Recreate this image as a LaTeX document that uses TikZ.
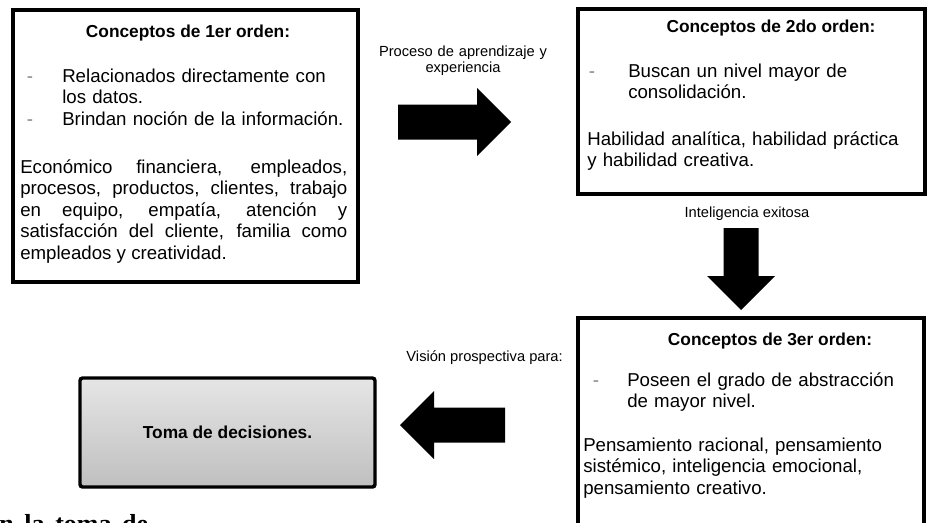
\documentclass[tikz,border=0pt]{standalone}
\usepackage{fontspec}
\setmainfont{Liberation Sans}
\newfontfamily\serifbf{Liberation Serif}
\usetikzlibrary{shadows}

\tikzset{
  orden/.style={draw, line width=2.6pt, inner sep=0pt, fill=white,
    drop shadow={shadow xshift=1pt, shadow yshift=-1pt, opacity=0.3}},
  titulo/.style={anchor=base, inner sep=0pt, font=\bfseries\fontsize{13}{15}\selectfont},
  guion/.style={anchor=base, inner sep=0pt, text=gray, font=\fontsize{14}{16}\selectfont},
  cuerpo/.style={anchor=base west, inner sep=0pt, text width=250pt, align=left,
    font=\fontsize{14}{16.2}\selectfont},
  rotulo/.style={anchor=base, inner sep=0pt, align=center, font=\fontsize{11}{12}\selectfont},
  pics/flecha/.style={code={
    \fill (0,-17.5) -- (#1-34,-17.5) -- (#1-34,-34) -- (#1,0) -- (#1-34,34)
      -- (#1-34,17.5) -- (0,17.5) -- cycle;
  }}
}

\begin{document}
\begin{tikzpicture}[x=0.75pt, y=-0.75pt]
  \useasboundingbox (0,0) rectangle (927,522);
  \clip (0,0) rectangle (927,522);

  % cajas
  \node[orden, minimum width=258.75pt, minimum height=204pt] (orden1) at (185.5,146) {};
  \node[orden, minimum width=260.25pt, minimum height=138.75pt] (orden2) at (751.5,101.5) {};
  \node[orden, minimum width=259.5pt, minimum height=181.5pt] (orden3) at (751,439) {};
  \node[orden, rounded corners=2pt, top color=gray!20, bottom color=gray!50,
    minimum width=221.25pt, minimum height=81.75pt,
    font=\bfseries\fontsize{13}{15}\selectfont] (decision) at (227.5,432.5) {Toma de decisiones.};

  % primer orden
  \node[titulo] (t1) at (188,37) {Conceptos de 1er orden:};
  \node[guion] (g11) at (30,82) {-};
  \node[cuerpo] (c11) at (62,82) {Relacionados directamente con\\los datos.};
  \node[guion] (g12) at (30,125) {-};
  \node[cuerpo] (c12) at (62,125) {Brindan noción de la información.};
  \node[cuerpo, text width=245.25pt, align=justify] (p1) at (20,173)
    {Económico financiera, empleados,\linebreak procesos, productos, clientes, trabajo\linebreak
     en equipo, empatía, atención y\linebreak satisfacción del cliente, familia como\linebreak
     empleados y creatividad.};

  % segundo orden
  \node[titulo] (t2) at (771,32) {Conceptos de 2do orden:};
  \node[guion] (g21) at (592,77) {-};
  \node[cuerpo] (c21) at (628,77) {Buscan un nivel mayor de\\consolidación.};
  \node[cuerpo] (p2) at (587,145) {Habilidad analítica, habilidad práctica\\y habilidad creativa.};

  % tercer orden
  \node[titulo] (t3) at (770,345) {Conceptos de 3er orden:};
  \node[guion] (g31) at (596,386) {-};
  \node[cuerpo] (c31) at (627,386) {Poseen el grado de abstracción\\de mayor nivel.};
  \node[cuerpo] (p3) at (583,451) {Pensamiento racional, pensamiento\\sistémico, inteligencia emocional,\\pensamiento creativo.};

  % flechas
  \node[rotulo, text width=150pt] (l12) at (463,56) {Proceso de aprendizaje y\\experiencia};
  \pic at (398,122) {flecha=113};
  \node[rotulo] (l23) at (747,217) {Inteligencia exitosa};
  \pic[rotate=-90] at (741,228) {flecha=82};
  \node[rotulo, anchor=base east] (l3d) at (563,361) {Visión prospectiva para:};
  \pic[rotate=180] at (505,425) {flecha=105};

  \node[anchor=base west, inner sep=0pt, font=\serifbf\bfseries\fontsize{19.5}{22}\selectfont]
    (resto) at (-1,532) {n\hspace{8pt}la\hspace{8pt}toma\hspace{8pt}de};
\end{tikzpicture}
\end{document}
